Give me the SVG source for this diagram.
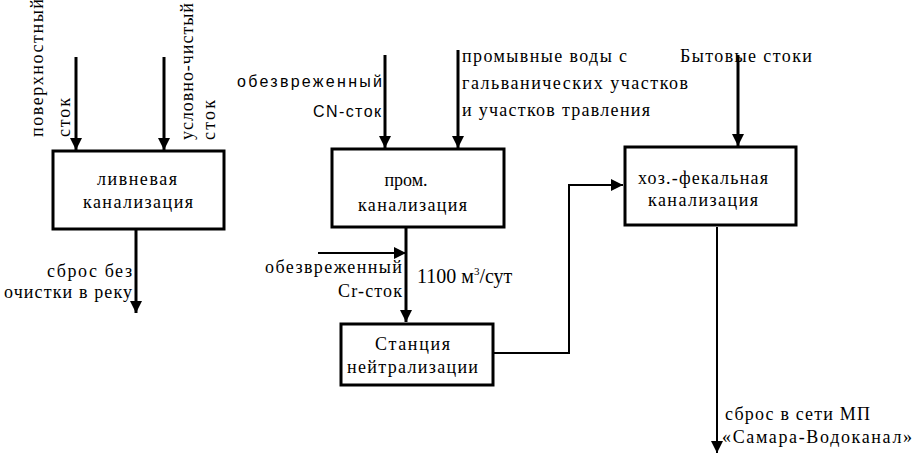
<svg xmlns="http://www.w3.org/2000/svg" width="912" height="454" viewBox="0 0 912 454">
<defs>
<style>
.box{fill:#fff;stroke:#000;stroke-width:3}
.t{font-family:"Liberation Serif","Times New Roman",serif;font-size:18px;fill:#000}
.s{font-family:"Liberation Sans",Arial,sans-serif;font-size:16px;fill:#000}
.ln{fill:none;stroke:#000;stroke-width:3}
.thin{fill:none;stroke:#000;stroke-width:2}
</style>
<marker id="ah2" viewBox="0 0 10 10" refX="10" refY="5" markerWidth="12" markerHeight="12" markerUnits="userSpaceOnUse" orient="auto">
<path d="M0,0 L10,5 L0,10 z" fill="#000"/>
</marker>
</defs>
<g id="connectors">
<line class="ln" x1="76" y1="57" x2="76" y2="150" marker-end="url(#ah2)"/>
<line class="ln" x1="164" y1="57" x2="164" y2="150" marker-end="url(#ah2)"/>
<line class="ln" x1="136" y1="229" x2="136" y2="313" marker-end="url(#ah2)"/>
<line class="ln" x1="385" y1="55" x2="385" y2="148" marker-end="url(#ah2)"/>
<line class="ln" x1="458" y1="50" x2="458" y2="148" marker-end="url(#ah2)"/>
<line class="ln" x1="738" y1="55" x2="738" y2="146" marker-end="url(#ah2)"/>
<line class="ln" x1="406" y1="227" x2="406" y2="322" marker-end="url(#ah2)"/>
<line class="thin" x1="318" y1="253" x2="406" y2="253" marker-end="url(#ah2)"/>
<polyline class="thin" points="493,353 569,353 569,185 623,185" marker-end="url(#ah2)"/>
<line class="thin" x1="717" y1="227" x2="717" y2="453" marker-end="url(#ah2)"/>
</g>
<g id="ext-inputs">
<text class="t" transform="translate(43,137) rotate(-90)" textLength="138" lengthAdjust="spacing">поверхностный</text>
<text class="t" transform="translate(70,137) rotate(-90)" textLength="39" lengthAdjust="spacing">сток</text>
<text class="t" transform="translate(193,140) rotate(-90)" textLength="137" lengthAdjust="spacing">условно-чистый</text>
<text class="t" transform="translate(215,140) rotate(-90)" textLength="40" lengthAdjust="spacing">сток</text>
<text class="s" x="237" y="87" textLength="145" lengthAdjust="spacing">обезвреженный</text>
<text class="s" x="313" y="117" textLength="68" lengthAdjust="spacing">CN-сток</text>
<text class="t" x="462" y="62" textLength="165" lengthAdjust="spacing">промывные воды с</text>
<text class="t" x="462" y="89" textLength="226" lengthAdjust="spacing">гальванических участков</text>
<text class="t" x="462" y="116" textLength="188" lengthAdjust="spacing">и участков травления</text>
<text class="t" x="680" y="62" textLength="132" lengthAdjust="spacing">Бытовые стоки</text>
<text class="t" x="47" y="277" textLength="85" lengthAdjust="spacing">сброс без</text>
<text class="t" x="4" y="298" textLength="128" lengthAdjust="spacing">очистки в реку</text>
<text class="t" x="265" y="273" textLength="137" lengthAdjust="spacing">обезвреженный</text>
<text class="t" x="338" y="297" textLength="64" lengthAdjust="spacing">Cr-сток</text>
<text class="t" x="417" y="283" style="font-size:20px">1100 м<tspan dy="-8" style="font-size:11px">3</tspan><tspan dy="8">/сут</tspan></text>
<text class="t" x="725" y="420" textLength="145" lengthAdjust="spacing">сброс в сети МП</text>
<text class="t" x="722" y="443" textLength="190" lengthAdjust="spacing">«Самара-Водоканал»</text>
</g>
<g id="node-livnevaya">
<rect class="box" x="53" y="151" width="171" height="78"/>
<text class="t" x="97" y="185" textLength="80" lengthAdjust="spacing">ливневая</text>
<text class="t" x="83" y="208" textLength="110" lengthAdjust="spacing">канализация</text>
</g>
<g id="node-prom">
<rect class="box" x="332" y="149" width="172" height="78"/>
<text class="t" x="406" y="186" text-anchor="middle">пром.</text>
<text class="t" x="358" y="211" textLength="109" lengthAdjust="spacing">канализация</text>
</g>
<g id="node-station">
<rect class="box" x="341" y="324" width="152" height="61"/>
<text class="t" x="375" y="350" textLength="75" lengthAdjust="spacing">Станция</text>
<text class="t" x="347" y="373" textLength="131" lengthAdjust="spacing">нейтрализации</text>
</g>
<g id="node-hoz">
<rect class="box" x="625" y="147" width="171" height="78"/>
<text class="t" x="638" y="184" textLength="130" lengthAdjust="spacing">хоз.-фекальная</text>
<text class="t" x="648" y="206" textLength="110" lengthAdjust="spacing">канализация</text>
</g>
</svg>
